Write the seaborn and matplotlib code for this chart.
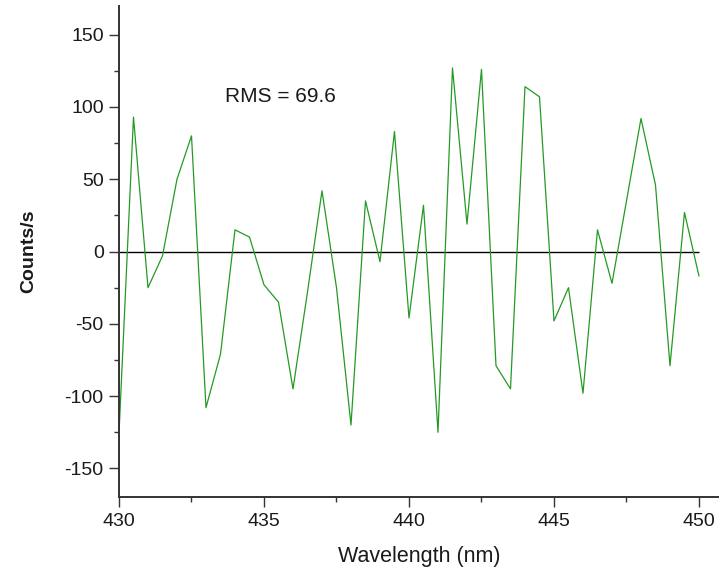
import numpy as np
import pandas as pd
import matplotlib
matplotlib.use("Agg")
import matplotlib.pyplot as plt
import seaborn as sns
from matplotlib.ticker import MultipleLocator

# residual spectrum
wavelength = [430.0, 430.5, 431.0, 431.5, 432.0, 432.5, 433.0, 433.5, 434.0, 434.5,
              435.0, 435.5, 436.0, 436.5, 437.0, 437.5, 438.0, 438.5, 439.0, 439.5,
              440.0, 440.5, 441.0, 441.5, 442.0, 442.5, 443.0, 443.5, 444.0, 444.5,
              445.0, 445.5, 446.0, 446.5, 447.0, 447.5, 448.0, 448.5, 449.0, 449.5,
              450.0]
counts = [-126, 93, -25, -3, 50, 80, -108, -71, 15, 10,
          -23, -35, -95, -28, 42, -25, -120, 35, -7, 83,
          -46, 32, -125, 127, 19, 126, -79, -95, 114, 107,
          -48, -25, -98, 15, -22, 35, 92, 46, -79, 27,
          -17]
rms_label = "RMS = 69.6"

df = pd.DataFrame({"Wavelength (nm)": wavelength, "Counts/s": counts})

sns.set_style("ticks")
plt.rcParams['font.family'] = ['Liberation Sans', 'DejaVu Sans']
plt.rcParams['axes.unicode_minus'] = False

fig = plt.figure(figsize=(7.19, 5.71), dpi=100)
ax = fig.add_axes([0.1655, 0.129, 0.8345, 0.861])

sns.lineplot(data=df, x="Wavelength (nm)", y="Counts/s", ax=ax,
             color="#249a24", linewidth=0.9)
ax.hlines(0, wavelength[0], wavelength[-1], color="black", linewidth=1.0, zorder=1)

ax.set_xlim(430, 450.69)
ax.set_ylim(-170, 170)
ax.xaxis.set_major_locator(MultipleLocator(5))
ax.xaxis.set_minor_locator(MultipleLocator(2.5))
ax.yaxis.set_major_locator(MultipleLocator(50))
ax.yaxis.set_minor_locator(MultipleLocator(25))

for s in ["top", "right"]:
    ax.spines[s].set_visible(False)
for s in ["left", "bottom"]:
    ax.spines[s].set_linewidth(1.4)
    ax.spines[s].set_color("#333333")

ax.tick_params(which="major", direction="out", length=7, width=1.0,
               labelsize=14, colors="#333333", labelcolor="#1a1a1a", pad=4)
ax.tick_params(which="minor", direction="out", length=3.6, width=1.0, colors="#333333")

ax.set_xlabel("Wavelength (nm)", fontsize=15.5, color="#1a1a1a", labelpad=12)
ax.set_ylabel("Counts/s", fontsize=14, fontweight="bold", color="#1a1a1a", labelpad=20)

ax.text(433.65, 107, rms_label, fontsize=15, color="#1a1a1a", va="center", ha="left")

fig.savefig("out.png", dpi=100)
